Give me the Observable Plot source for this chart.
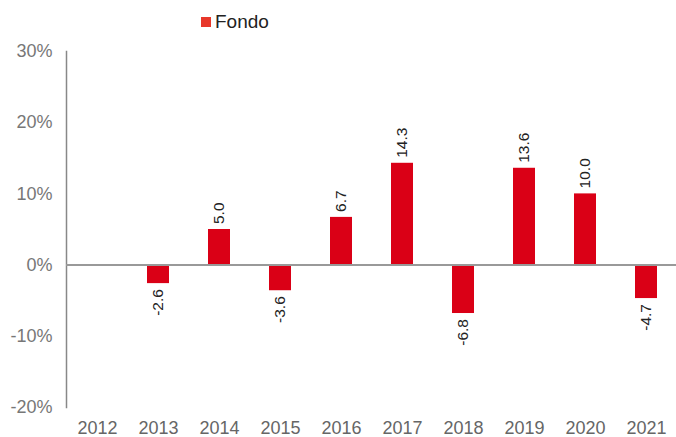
<!DOCTYPE html>
<html>
<head>
<meta charset="utf-8">
<script src="https://cdn.jsdelivr.net/npm/d3@7"></script>
<script src="https://cdn.jsdelivr.net/npm/@observablehq/plot@0.6"></script>
<style>
  body { margin: 0; background: #fff; font-family: "Liberation Sans", Arial, sans-serif; }
  #wrap { position: relative; width: 676px; height: 437px; }
  #legend { position: relative; height: 40px; }
  #legend .sw { position: absolute; left: 201px; top: 17px; width: 10px; height: 10px; background: #E8372A; }
  #legend .lb { position: absolute; left: 215px; top: 11px; font-size: 19px; color: #222; line-height: 22px; }
  svg { display: block; }
</style>
</head>
<body>
<div id="wrap">
  <div id="legend"><span class="sw"></span><span class="lb">Fondo</span></div>
  <div id="chart"></div>
</div>
<script>
const years = ["2012","2013","2014","2015","2016","2017","2018","2019","2020","2021"];
const fondo = [null, -2.6, 5.0, -3.6, 6.7, 14.3, -6.8, 13.6, 10.0, -4.7];
const yTicks = [-20, -10, 0, 10, 20, 30];

const data = years.map((y, i) => ({year: y, value: fondo[i]})).filter(d => d.value != null);

const chart = Plot.plot({
  width: 676,
  height: 397,
  marginTop: 11,
  marginBottom: 30,
  marginLeft: 66,
  marginRight: 0,
  style: { fontFamily: "Liberation Sans, Arial, sans-serif", background: "#fff" },
  x: { domain: years, paddingInner: 0.64, paddingOuter: 0.32, align: 0.5 },
  y: { domain: [-20, 30], ticks: yTicks },
  marks: [
    Plot.axisY({ ticks: yTicks, tickFormat: d => d + "%", tickSize: 0, tickPadding: 14, fontSize: 18, color: "#777", label: null }),
    Plot.axisX({ tickSize: 0, tickPadding: 14, fontSize: 18, color: "#666", label: null }),
    Plot.frame({ anchor: "left", stroke: "#888", strokeWidth: 1.5 }),
    Plot.barY(data, { x: "year", y: "value", fill: "#DA0016" }),
    Plot.ruleY([0], { stroke: "#999", strokeWidth: 2 }),
    Plot.text(data.filter(d => d.value >= 0), { x: "year", y: "value", text: d => d.value.toFixed(1), rotate: -90, textAnchor: "start", dy: -5.5, fontSize: 15.5, fill: "#222" }),
    Plot.text(data.filter(d => d.value < 0), { x: "year", y: "value", text: d => d.value.toFixed(1), rotate: -90, textAnchor: "end", dy: 5.5, fontSize: 15.5, fill: "#222" })
  ]
});
document.getElementById("chart").appendChild(chart);
</script>
</body>
</html>
